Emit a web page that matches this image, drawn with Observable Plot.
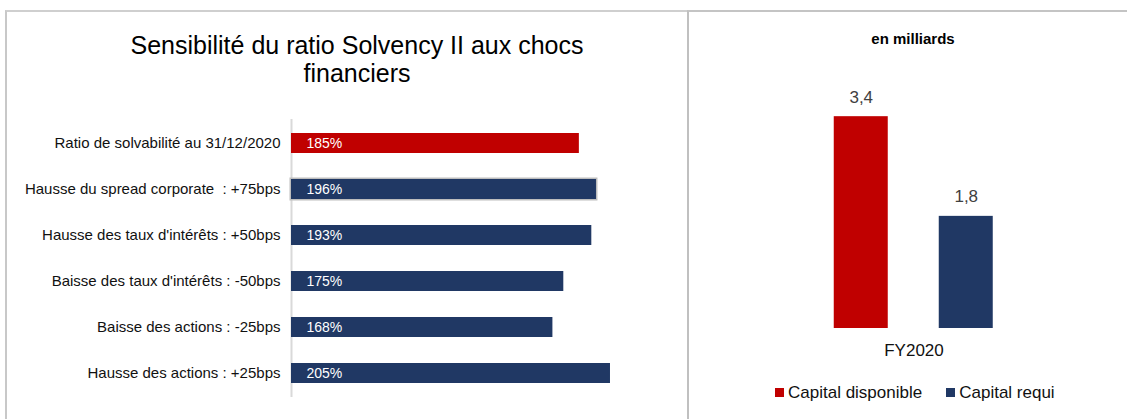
<!DOCTYPE html>
<html>
<head>
<meta charset="utf-8">
<script src="https://cdn.jsdelivr.net/npm/d3@7"></script>
<script src="https://cdn.jsdelivr.net/npm/@observablehq/plot@0.6"></script>
<style>
  body { margin: 0; background: #fff; }
  #page { position: relative; width: 1127px; height: 419px; overflow: hidden; background: #fff;
          font-family: "Liberation Sans", Arial, sans-serif; color: #000; }
  .abs { position: absolute; }
  svg text { white-space: pre; }
  #panelL { left: 5px; top: 10px; width: 682px; height: 420px; border-left: 2px solid #c8c8c8; border-top: 2px solid #cfcfcf; }
  #panelR { left: 687px; top: 10px; width: 460px; height: 420px; border-left: 2px solid #c0c0c0; border-top: 2px solid #c4c4c4; }
  #title { left: 57px; width: 600px; top: 32px; text-align: center; font-size: 25px; line-height: 27.5px; }
  #subR { left: 813px; width: 200px; top: 30px; text-align: center; font-size: 15px; font-weight: bold; line-height: 18px; }
  .lg-swatch { margin-right: 24px !important; }
  .lg-swatch > svg { margin-right: 4px !important; }
</style>
</head>
<body>
<div id="page">
  <div id="panelL" class="abs"></div>
  <div id="panelR" class="abs"></div>
  <div id="title" class="abs">Sensibilité du ratio Solvency II aux chocs<br>financiers</div>
  <div id="subR" class="abs">en milliards</div>
  <div id="chartL" class="abs" style="left:0px; top:110px;"></div>
  <div id="chartR" class="abs" style="left:690px; top:60px;"></div>
  <div id="legendR" class="abs" style="left:775px; top:376px;"></div>
</div>
<script>
// ---- Left chart data ----
const categories = [
  "Ratio de solvabilité au 31/12/2020",
  "Hausse du spread corporate  : +75bps",
  "Hausse des taux d'intérêts : +50bps",
  "Baisse des taux d'intérêts : -50bps",
  "Baisse des actions : -25bps",
  "Hausse des actions : +25bps"
];
const ratios = [185, 196, 193, 175, 168, 205];

// ---- Right chart data ----
const period = "FY2020";
const series = ["Capital disponible", "Capital requi"];
const capital = [3.4, 1.8];

const RED = "#C00000";
const NAVY = "#203864";

const rowsL = categories.map((c, i) => ({label: c, value: ratios[i], current: i === 0}));
const rowsR = series.map((s, i) => ({period, series: s, value: capital[i]}));

const font = "'Liberation Sans', Arial, sans-serif";

const left = Plot.plot({
  width: 686, height: 300,
  marginLeft: 291, marginRight: 6, marginTop: 9, marginBottom: 13,
  style: {fontFamily: font, fontSize: "15px", color: "#000", background: "transparent"},
  x: {domain: [0, 250], axis: null},
  y: {domain: categories, paddingInner: 0.565, paddingOuter: 0.285, axis: null},
  marks: [
    Plot.ruleX([0], {stroke: "#d9d9d9", strokeWidth: 2}),
    Plot.barX(rowsL.filter(d => d.label === categories[1]), {x: "value", y: "label", fill: "none", stroke: "#bdbdbd", strokeWidth: 3}),
    Plot.barX(rowsL, {x: "value", y: "label", fill: d => d.current ? RED : NAVY}),
    Plot.text(rowsL, {x: 0, y: "label", text: d => d.value + "%", textAnchor: "start", dx: 15, fill: "#fff", fontSize: 14}),
    Plot.axisY({tickSize: 0, tickPadding: 11, fontSize: 15, label: null, fill: "#111"})
  ]
});
document.getElementById("chartL").append(left);

const fmt = v => String(v).replace(".", ",");

const right = Plot.plot({
  width: 437, height: 300,
  marginLeft: 91.25, marginRight: 80.75, marginTop: 18.8, marginBottom: 32,
  style: {fontFamily: font, fontSize: "17px", color: "#000", background: "transparent"},
  fx: {domain: [period], padding: 0, axis: null},
  x: {domain: series, paddingInner: 0.488, paddingOuter: 0.5, axis: null},
  y: {domain: [0, 4], axis: null},
  marks: [
    Plot.barY(rowsR, {fx: "period", x: "series", y: "value", fill: d => d.series === series[0] ? RED : NAVY}),
    Plot.text(rowsR, {fx: "period", x: "series", y: "value", text: d => fmt(d.value), lineAnchor: "bottom", dy: -14, fill: "#404040", fontSize: 17}),
    Plot.axisFx({anchor: "bottom", tickSize: 0, tickPadding: 15, fontSize: 17, label: null, fill: "#111"})
  ]
});
document.getElementById("chartR").append(right);

const legend = Plot.legend({
  color: {domain: series, range: [RED, NAVY]},
  legend: "swatches",
  swatchSize: 9,
  className: "lg",
  style: {fontFamily: font, fontSize: "17px", color: "#111"}
});
document.getElementById("legendR").append(legend);
</script>
</body>
</html>
